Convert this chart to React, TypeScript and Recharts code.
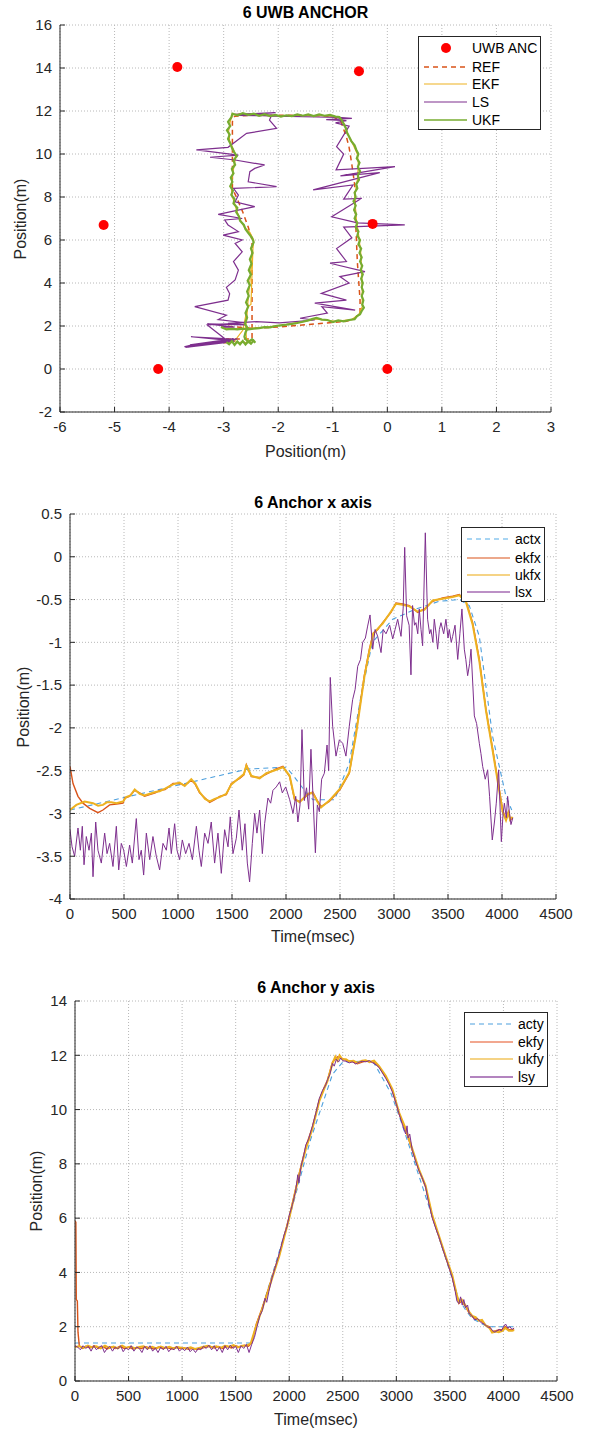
import React from 'react';
import { ComposedChart, Line, Scatter, XAxis, YAxis, CartesianGrid } from 'recharts';

const FONT = 'Arial, "Liberation Sans", Helvetica, sans-serif';
const INK = '#262626';

// ---------- panel 1: 2D track (x, y in metres) ----------
const anchorPts: [number, number][] = [
  [-3.85, 14.05], [-0.52, 13.85], [-5.2, 6.7], [-0.27, 6.75], [-4.2, 0], [0, 0],
];

const refTrack: [number, number][] = [
  [-2.96, 1.4], [-2.48, 1.4], [-2.48, 6.0], [-2.55, 6.6], [-2.65, 7.3], [-2.75, 7.9], [-2.84, 8.4],
  [-2.84, 11.5], [-2.8, 11.75], [-2.5, 11.8], [-1.5, 11.8], [-1.0, 11.75], [-0.85, 11.5], [-0.75, 10.8],
  [-0.7, 10.3], [-0.65, 9.5], [-0.6, 8.6], [-0.58, 6.8], [-0.55, 5.0], [-0.5, 3.2], [-0.5, 2.6],
  [-0.6, 2.35], [-0.75, 2.22], [-1.3, 2.1], [-2.0, 1.95], [-2.5, 1.9], [-2.96, 2.0],
];

const ekfTrack: [number, number][] = [
  [-2.45, 5.9], [-2.46, 5.85], [-2.5, 3.0], [-2.56, 2.9], [-2.65, 1.8], [-2.8, 1.3], [-2.88, 1.2],
  [-2.95, 1.28], [-2.99, 1.2], [-2.9, 1.25], [-2.82, 1.3], [-2.73, 1.2], [-2.65, 1.28], [-2.6, 1.22],
  [-2.55, 1.3], [-2.5, 1.25], [-2.58, 1.4], [-2.6, 1.9], [-2.57, 2.6], [-2.55, 3.3], [-2.52, 4.0],
  [-2.5, 4.7], [-2.47, 5.4], [-2.45, 6.0], [-2.52, 6.35], [-2.62, 6.6], [-2.7, 6.95], [-2.76, 7.35],
  [-2.8, 7.7], [-2.85, 8.1], [-2.86, 8.6], [-2.84, 9.0], [-2.81, 9.45], [-2.78, 9.85], [-2.82, 10.2],
  [-2.89, 10.6], [-2.91, 11.05], [-2.88, 11.5], [-2.84, 11.82], [-2.7, 11.86], [-2.3, 11.8],
  [-1.9, 11.77], [-1.5, 11.79], [-1.1, 11.78], [-0.88, 11.68], [-0.79, 11.4], [-0.72, 10.9],
  [-0.62, 10.4], [-0.55, 10.0], [-0.53, 9.5], [-0.55, 8.8], [-0.6, 8.0], [-0.57, 7.0], [-0.53, 6.3],
  [-0.49, 5.5], [-0.47, 4.5], [-0.46, 3.6], [-0.46, 2.9], [-0.52, 2.55], [-0.65, 2.3], [-0.95, 2.22],
  [-1.3, 2.33], [-1.55, 2.2], [-1.85, 2.07], [-2.2, 1.95], [-2.6, 1.87], [-3.0, 1.9],
];

const lsTrack: [number, number][] = [
  [-2.8, 1.3], [-3.6, 1.05], [-2.85, 1.35], [-3.7, 1.0], [-2.9, 1.25], [-3.5, 1.1], [-2.75, 1.4],
  [-3.65, 1.02], [-2.95, 1.3], [-3.4, 1.15], [-2.8, 1.35], [-3.7, 1.05], [-3.0, 1.28], [-3.55, 1.08],
  [-2.85, 1.3], [-3.62, 1.12], [-2.9, 1.38], [-3.68, 1.06], [-2.88, 1.32], [-3.45, 1.12], [-2.82, 1.42],
  [-3.58, 1.1], [-2.92, 1.36], [-3.72, 1.04], [-2.86, 1.28], [-3.52, 1.14], [-2.78, 1.38], [-3.66, 1.08],
  [-2.9, 1.33], [-3.6, 1.5], [-2.9, 1.4], [-3.3, 1.2], [-2.95, 1.35], [-3.3, 2.05], [-2.6, 2.15],
  [-3.1, 2.3], [-2.95, 2.5], [-3.53, 2.9], [-2.92, 3.2], [-2.89, 3.5], [-2.95, 3.8], [-2.79, 4.14],
  [-2.73, 4.6], [-2.82, 5.0], [-2.66, 5.45], [-2.79, 5.84], [-2.66, 6.0], [-3.01, 6.23], [-2.73, 6.39],
  [-2.92, 6.7], [-2.98, 6.93], [-2.66, 7.0], [-3.1, 7.19], [-2.43, 7.55], [-2.79, 7.78], [-2.73, 8.09],
  [-2.82, 8.4], [-2.03, 8.48], [-2.55, 8.71], [-2.52, 9.18], [-2.43, 9.33], [-2.25, 9.49], [-2.79, 9.72],
  [-3.25, 9.85], [-2.73, 9.95], [-3.5, 10.19], [-2.92, 10.31], [-2.58, 10.96], [-2.03, 11.19],
  [-2.16, 11.58], [-2.12, 11.81], [-2.8, 11.85], [-2.05, 11.92], [-2.75, 11.8], [-2.3, 11.78],
  [-1.8, 11.75], [-1.3, 11.72], [-0.9, 11.7], [-0.65, 11.66], [-1.12, 11.6], [-0.75, 11.55],
  [-0.95, 11.45], [-0.7, 11.3], [-0.93, 10.34], [-0.8, 10.0], [-0.94, 9.26], [0.14, 9.41],
  [-0.86, 8.98], [-0.14, 9.13], [-1.36, 8.33], [-0.63, 8.56], [-0.8, 7.9], [-0.47, 7.94], [-1.02, 7.08],
  [-0.55, 6.8], [0.32, 6.7], [-0.8, 6.6], [-0.65, 6.1], [-0.93, 5.6], [-0.75, 5.0], [-1.05, 4.92],
  [-0.41, 4.53], [-0.87, 4.3], [-0.7, 4.0], [-1.21, 3.52], [-0.75, 3.2], [-1.33, 3.06], [-0.59, 2.74],
  [-1.2, 2.9], [-1.1, 2.6], [-1.6, 2.36], [-1.33, 2.28], [-1.98, 2.15], [-2.4, 2.2], [-2.92, 2.12],
  [-2.6, 2.05], [-3.3, 2.1], [-2.8, 1.95], [-3.05, 1.95],
];

const ukfTrack: [number, number][] = [
  [-2.95, 1.25], [-2.9, 1.15], [-2.85, 1.3], [-2.8, 1.12], [-2.75, 1.28], [-2.7, 1.15], [-2.65, 1.3],
  [-2.6, 1.14], [-2.55, 1.28], [-2.5, 1.18], [-2.45, 1.32], [-2.42, 1.22], [-2.48, 1.38], [-2.55, 1.25],
  [-2.6, 1.4], [-2.62, 1.5], [-2.6, 1.7], [-2.56, 1.9], [-2.61, 2.1], [-2.57, 2.4], [-2.6, 2.6],
  [-2.55, 2.9], [-2.59, 3.1], [-2.54, 3.4], [-2.57, 3.6], [-2.52, 3.9], [-2.56, 4.1], [-2.5, 4.4],
  [-2.54, 4.6], [-2.49, 4.9], [-2.52, 5.1], [-2.47, 5.4], [-2.5, 5.6], [-2.45, 5.9], [-2.48, 6.1],
  [-2.54, 6.3], [-2.6, 6.5], [-2.63, 6.7], [-2.7, 6.9], [-2.72, 7.1], [-2.77, 7.3], [-2.75, 7.5],
  [-2.82, 7.7], [-2.8, 7.9], [-2.86, 8.1], [-2.83, 8.3], [-2.88, 8.5], [-2.84, 8.7], [-2.87, 8.9],
  [-2.82, 9.1], [-2.85, 9.3], [-2.79, 9.5], [-2.82, 9.7], [-2.76, 9.9], [-2.81, 10.1], [-2.85, 10.3],
  [-2.88, 10.5], [-2.92, 10.7], [-2.89, 10.9], [-2.94, 11.1], [-2.88, 11.3], [-2.92, 11.5], [-2.86, 11.7],
  [-2.84, 11.88], [-2.75, 11.8], [-2.65, 11.9], [-2.55, 11.82], [-2.45, 11.88], [-2.35, 11.78],
  [-2.25, 11.85], [-2.15, 11.76], [-2.05, 11.82], [-1.95, 11.74], [-1.85, 11.8], [-1.75, 11.76],
  [-1.65, 11.84], [-1.55, 11.78], [-1.45, 11.84], [-1.35, 11.76], [-1.25, 11.84], [-1.15, 11.78],
  [-1.05, 11.82], [-0.95, 11.74], [-0.88, 11.72], [-0.83, 11.55], [-0.8, 11.4], [-0.76, 11.2],
  [-0.74, 11.0], [-0.7, 10.8], [-0.66, 10.6], [-0.6, 10.4], [-0.57, 10.2], [-0.53, 10.0], [-0.56, 9.8],
  [-0.51, 9.6], [-0.54, 9.4], [-0.5, 9.2], [-0.54, 9.0], [-0.52, 8.8], [-0.57, 8.6], [-0.55, 8.4],
  [-0.6, 8.2], [-0.58, 8.0], [-0.62, 7.8], [-0.58, 7.6], [-0.61, 7.4], [-0.57, 7.2], [-0.6, 7.0],
  [-0.55, 6.8], [-0.58, 6.6], [-0.53, 6.4], [-0.55, 6.2], [-0.5, 6.0], [-0.53, 5.8], [-0.48, 5.6],
  [-0.51, 5.4], [-0.47, 5.2], [-0.5, 5.0], [-0.46, 4.8], [-0.49, 4.6], [-0.45, 4.4], [-0.48, 4.2],
  [-0.45, 4.0], [-0.47, 3.8], [-0.44, 3.6], [-0.47, 3.4], [-0.44, 3.2], [-0.46, 3.0], [-0.43, 2.85],
  [-0.47, 2.7], [-0.5, 2.55], [-0.56, 2.45], [-0.6, 2.32], [-0.7, 2.28], [-0.8, 2.22], [-0.9, 2.26],
  [-1.0, 2.18], [-1.1, 2.28], [-1.2, 2.3], [-1.3, 2.38], [-1.38, 2.32], [-1.45, 2.26], [-1.55, 2.2],
  [-1.65, 2.14], [-1.75, 2.1], [-1.85, 2.06], [-1.95, 2.03], [-2.05, 2.0], [-2.15, 1.94], [-2.25, 1.95],
  [-2.35, 1.9], [-2.45, 1.88], [-2.55, 1.84], [-2.65, 1.88], [-2.75, 1.84], [-2.85, 1.87], [-2.95, 1.84],
  [-3.05, 1.95],
];

const trackXTicks = [-6, -5, -4, -3, -2, -1, 0, 1, 2, 3];
const trackYTicks = [-2, 0, 2, 4, 6, 8, 10, 12, 14, 16];

// ---------- panel 2: x position over time ----------
const actxT = [0, 1650, 2000, 2064, 2188, 2250, 2450, 2586, 2694, 2800, 2988, 3203, 3420, 3605, 3697, 3790, 3913, 4037, 4090];
const actxV = [-2.96, -2.48, -2.46, -2.55, -2.76, -2.84, -2.84, -2.41, -1.63, -1.0, -0.73, -0.61, -0.52, -0.5, -0.57, -0.93, -2.1, -2.8, -2.96];

const ekfxT = [0, 28, 74, 120, 182, 259, 305, 367, 430, 491, 506, 550, 599, 645, 690, 738, 790, 830, 880, 954, 1015, 1062, 1123, 1160, 1200, 1250, 1293, 1340, 1386, 1447, 1494, 1571, 1610, 1633, 1679, 1756, 1818, 1910, 1972, 2034, 2080, 2126, 2203, 2247, 2290, 2324, 2401, 2500, 2586, 2648, 2725, 2772, 2809, 2850, 2895, 2972, 3018, 3080, 3142, 3219, 3281, 3358, 3450, 3543, 3605, 3667, 3728, 3790, 3852, 3914, 3975, 4006, 4037, 4060, 4075, 4098];
const ekfxV = [-2.45, -2.65, -2.8, -2.88, -2.94, -2.99, -2.96, -2.9, -2.89, -2.88, -2.82, -2.8, -2.73, -2.76, -2.8, -2.78, -2.76, -2.73, -2.72, -2.65, -2.65, -2.67, -2.61, -2.66, -2.76, -2.82, -2.87, -2.84, -2.8, -2.78, -2.65, -2.59, -2.55, -2.43, -2.57, -2.58, -2.54, -2.48, -2.45, -2.57, -2.84, -2.86, -2.78, -2.75, -2.85, -2.92, -2.86, -2.72, -2.53, -2.06, -1.39, -1.08, -0.89, -0.85, -0.77, -0.65, -0.54, -0.55, -0.57, -0.65, -0.61, -0.52, -0.48, -0.46, -0.44, -0.52, -0.77, -1.2, -1.79, -2.25, -2.72, -2.96, -3.07, -2.98, -3.08, -3.05];

const ukfxT = [0, 59, 136, 213, 260, 305, 340, 383, 430, 491, 520, 560, 599, 645, 690, 738, 790, 830, 880, 954, 1015, 1062, 1123, 1160, 1200, 1250, 1293, 1340, 1386, 1447, 1494, 1571, 1610, 1633, 1679, 1756, 1818, 1910, 1972, 2034, 2080, 2126, 2203, 2247, 2290, 2324, 2401, 2500, 2586, 2648, 2725, 2772, 2809, 2850, 2895, 2972, 3018, 3080, 3142, 3219, 3281, 3358, 3450, 3543, 3605, 3667, 3728, 3790, 3852, 3914, 3975, 4006, 4037, 4060, 4075, 4098];
const ukfxV = [-2.96, -2.9, -2.86, -2.88, -2.91, -2.9, -2.87, -2.87, -2.88, -2.86, -2.81, -2.79, -2.72, -2.77, -2.79, -2.77, -2.75, -2.74, -2.71, -2.66, -2.64, -2.68, -2.6, -2.65, -2.75, -2.83, -2.86, -2.83, -2.81, -2.77, -2.66, -2.58, -2.54, -2.44, -2.56, -2.59, -2.53, -2.49, -2.46, -2.56, -2.83, -2.87, -2.77, -2.76, -2.86, -2.93, -2.85, -2.71, -2.52, -2.08, -1.41, -1.1, -0.9, -0.84, -0.78, -0.64, -0.55, -0.56, -0.58, -0.64, -0.62, -0.51, -0.49, -0.47, -0.45, -0.53, -0.79, -1.22, -1.8, -2.27, -2.74, -2.98, -3.08, -2.99, -3.07, -3.04];

const lsxT = [0, 19, 43, 74, 96, 114, 130, 151, 176, 198, 213, 238, 259, 290, 321, 343, 367, 398, 429, 451, 475, 497, 522, 552, 577, 614, 639, 660, 682, 707, 738, 768, 799, 830, 861, 892, 917, 938, 969, 991, 1015, 1040, 1071, 1102, 1133, 1170, 1194, 1216, 1247, 1278, 1308, 1339, 1370, 1401, 1432, 1463, 1484, 1509, 1540, 1565, 1595, 1620, 1642, 1663, 1688, 1710, 1731, 1756, 1781, 1802, 1833, 1858, 1879, 1910, 1941, 1966, 1997, 2034, 2065, 2090, 2110, 2130, 2148, 2170, 2190, 2210, 2231, 2250, 2272, 2290, 2309, 2330, 2355, 2380, 2395, 2410, 2432, 2463, 2494, 2525, 2555, 2586, 2617, 2640, 2664, 2690, 2710, 2735, 2756, 2778, 2803, 2825, 2849, 2880, 2900, 2926, 2960, 2988, 3010, 3034, 3065, 3085, 3099, 3117, 3140, 3157, 3172, 3190, 3203, 3220, 3234, 3250, 3265, 3290, 3311, 3330, 3342, 3360, 3373, 3390, 3404, 3420, 3435, 3460, 3481, 3500, 3512, 3530, 3543, 3565, 3590, 3610, 3629, 3651, 3665, 3682, 3700, 3713, 3730, 3744, 3765, 3790, 3805, 3821, 3845, 3867, 3885, 3910, 3930, 3947, 3969, 3994, 4010, 4022, 4040, 4052, 4070, 4083, 4100];
const lsxV = [-3.19, -3.39, -3.5, -3.17, -3.43, -3.15, -3.6, -3.27, -3.43, -3.23, -3.74, -3.1, -3.43, -3.58, -3.23, -3.47, -3.35, -3.62, -3.15, -3.66, -3.35, -3.43, -3.62, -3.37, -3.58, -3.06, -3.54, -3.43, -3.72, -3.23, -3.54, -3.27, -3.5, -3.66, -3.35, -3.43, -3.17, -3.47, -3.12, -3.43, -3.54, -3.31, -3.47, -3.35, -3.54, -3.15, -3.43, -3.62, -3.23, -3.35, -3.1, -3.58, -3.23, -3.7, -3.19, -3.39, -3.04, -3.47, -3.29, -2.96, -3.43, -3.12, -3.58, -3.8, -3.35, -3.0, -3.23, -2.96, -3.47, -3.12, -2.82, -2.88, -2.73, -2.69, -2.63, -2.76, -2.69, -2.84, -3.0, -2.8, -3.1, -2.9, -2.02, -2.85, -2.7, -2.95, -2.25, -2.8, -3.46, -2.9, -2.98, -2.6, -2.53, -2.2, -2.5, -1.41, -1.98, -2.33, -2.14, -2.18, -2.33, -1.98, -1.67, -1.55, -1.28, -1.2, -1.0, -0.95, -0.81, -0.68, -1.08, -0.85, -0.93, -1.12, -0.85, -0.9, -0.8, -0.96, -0.85, -0.73, -0.93, -0.6, 0.11, -0.69, -0.8, -1.38, -0.57, -0.8, -0.77, -0.9, -0.61, -0.85, -1.04, 0.28, -0.73, -0.9, -0.85, -1.0, -0.73, -0.9, -1.08, -0.85, -0.77, -0.9, -0.73, -0.95, -0.85, -1.0, -0.93, -0.8, -1.2, -0.9, -0.61, -1.08, -1.2, -1.39, -1.25, -1.08, -1.5, -1.86, -1.95, -2.18, -2.3, -2.45, -2.6, -2.49, -2.8, -3.31, -3.1, -2.88, -2.49, -3.33, -3.0, -2.88, -3.05, -2.8, -3.0, -3.13, -3.05];

const timeTicks = [0, 500, 1000, 1500, 2000, 2500, 3000, 3500, 4000, 4500];
const xPosTicks = [-4, -3.5, -3, -2.5, -2, -1.5, -1, -0.5, 0, 0.5];

// ---------- panel 3: y position over time ----------
const actyT = [0, 1650, 2000, 2200, 2404, 2500, 2780, 2950, 3050, 3336, 3584, 3650, 3708, 3850, 4100];
const actyV = [1.4, 1.4, 6.0, 8.9, 11.3, 11.75, 11.8, 10.6, 9.5, 6.05, 3.0, 2.6, 2.3, 2.0, 2.0];

const ekfyT = [0, 8, 12, 22, 28, 40, 70, 100, 140, 180, 220, 260, 300, 340, 380, 420, 460, 500, 540, 580, 620, 660, 700, 740, 780, 820, 860, 900, 940, 980, 1020, 1060, 1100, 1140, 1180, 1220, 1260, 1300, 1340, 1380, 1420, 1460, 1500, 1540, 1580, 1620, 1650, 1693, 1739, 1790, 1850, 1907, 1950, 2000, 2050, 2093, 2155, 2217, 2280, 2330, 2357, 2404, 2450, 2497, 2530, 2559, 2600, 2637, 2680, 2714, 2750, 2792, 2839, 2901, 2963, 3025, 3087, 3149, 3211, 3273, 3336, 3398, 3460, 3522, 3560, 3584, 3610, 3646, 3680, 3708, 3740, 3770, 3800, 3832, 3870, 3894, 3930, 3956, 3990, 4018, 4050, 4081, 4100];
const ekfyV = [5.9, 5.85, 3.0, 2.95, 1.8, 1.3, 1.2, 1.28, 1.22, 1.3, 1.2, 1.27, 1.18, 1.25, 1.2, 1.28, 1.2, 1.25, 1.18, 1.24, 1.2, 1.26, 1.22, 1.18, 1.25, 1.2, 1.23, 1.18, 1.24, 1.2, 1.22, 1.17, 1.2, 1.16, 1.2, 1.25, 1.28, 1.22, 1.27, 1.2, 1.28, 1.22, 1.3, 1.25, 1.32, 1.28, 1.4, 2.1, 2.6, 3.2, 3.95, 4.64, 5.3, 6.05, 6.9, 7.64, 8.63, 9.36, 10.34, 10.85, 11.08, 11.75, 11.94, 11.88, 11.82, 11.79, 11.75, 11.69, 11.75, 11.79, 11.77, 11.75, 11.57, 11.2, 10.71, 9.85, 9.24, 8.5, 7.77, 7.15, 6.05, 5.31, 4.58, 3.84, 3.2, 2.86, 2.95, 2.74, 2.5, 2.37, 2.3, 2.25, 2.2, 2.06, 2.0, 1.82, 1.85, 1.88, 1.9, 2.0, 1.9, 1.88, 1.9];

const ukfyT = [0, 40, 80, 120, 160, 200, 240, 280, 320, 360, 400, 440, 480, 520, 560, 600, 640, 680, 720, 760, 800, 840, 880, 920, 960, 1000, 1040, 1080, 1120, 1160, 1200, 1240, 1280, 1320, 1360, 1400, 1440, 1480, 1520, 1560, 1600, 1640, 1693, 1739, 1790, 1850, 1907, 1950, 2000, 2050, 2093, 2155, 2217, 2280, 2330, 2357, 2404, 2430, 2450, 2470, 2497, 2530, 2559, 2600, 2637, 2680, 2714, 2750, 2792, 2839, 2901, 2963, 3025, 3087, 3149, 3211, 3273, 3336, 3398, 3460, 3522, 3560, 3584, 3610, 3646, 3680, 3708, 3740, 3770, 3800, 3832, 3870, 3894, 3930, 3956, 3990, 4018, 4050, 4081, 4100];
const ukfyV = [1.25, 1.28, 1.22, 1.3, 1.24, 1.28, 1.2, 1.3, 1.22, 1.27, 1.2, 1.3, 1.22, 1.27, 1.2, 1.25, 1.28, 1.2, 1.26, 1.2, 1.27, 1.22, 1.26, 1.2, 1.25, 1.22, 1.2, 1.24, 1.18, 1.22, 1.26, 1.3, 1.24, 1.28, 1.22, 1.3, 1.26, 1.32, 1.24, 1.3, 1.3, 1.38, 2.05, 2.55, 3.15, 3.9, 4.6, 5.25, 6.0, 6.85, 7.6, 8.55, 9.3, 10.3, 10.8, 11.05, 11.7, 11.95, 11.8, 12.0, 11.85, 11.85, 11.78, 11.8, 11.72, 11.8, 11.82, 11.75, 11.8, 11.6, 11.25, 10.75, 9.9, 9.3, 8.55, 7.8, 7.2, 6.1, 5.35, 4.6, 3.9, 3.25, 2.9, 3.0, 2.78, 2.55, 2.4, 2.35, 2.22, 2.25, 2.05, 1.95, 1.78, 1.82, 1.8, 1.85, 1.95, 1.85, 1.85, 1.88];

const lsyT = [0, 25, 50, 75, 100, 125, 150, 175, 200, 225, 250, 275, 300, 325, 350, 375, 400, 425, 450, 475, 500, 525, 550, 575, 600, 625, 650, 675, 700, 725, 750, 775, 800, 825, 850, 875, 900, 925, 950, 975, 1000, 1025, 1050, 1075, 1100, 1125, 1150, 1175, 1200, 1225, 1250, 1275, 1300, 1325, 1350, 1375, 1400, 1425, 1450, 1475, 1500, 1525, 1550, 1575, 1600, 1625, 1650, 1675, 1700, 1725, 1750, 1775, 1790, 1810, 1840, 1870, 1907, 1950, 1980, 2000, 2030, 2060, 2080, 2090, 2110, 2140, 2155, 2180, 2217, 2250, 2280, 2310, 2340, 2357, 2380, 2404, 2420, 2440, 2460, 2480, 2500, 2530, 2560, 2590, 2620, 2650, 2680, 2714, 2750, 2780, 2810, 2839, 2870, 2901, 2930, 2963, 3000, 3025, 3060, 3087, 3100, 3110, 3125, 3149, 3180, 3211, 3240, 3273, 3300, 3336, 3370, 3398, 3430, 3460, 3490, 3522, 3550, 3565, 3584, 3600, 3615, 3630, 3646, 3665, 3680, 3708, 3730, 3760, 3790, 3820, 3850, 3880, 3900, 3920, 3940, 3960, 3980, 4000, 4020, 4040, 4060, 4080, 4100];
const lsyV = [1.3, 1.25, 1.15, 1.3, 1.2, 1.28, 1.1, 1.3, 1.15, 1.25, 1.3, 1.05, 1.2, 1.28, 1.1, 1.25, 1.18, 1.3, 1.08, 1.22, 1.15, 1.3, 1.1, 1.25, 1.2, 1.05, 1.28, 1.15, 1.3, 1.1, 1.22, 1.05, 1.25, 1.15, 1.28, 1.08, 1.2, 1.15, 1.28, 1.1, 1.2, 1.12, 1.25, 1.08, 1.18, 1.05, 1.2, 1.15, 1.28, 1.2, 1.32, 1.15, 1.3, 1.1, 1.25, 1.05, 1.3, 1.15, 1.32, 1.2, 1.28, 1.05, 1.3, 1.2, 1.35, 1.05, 1.35, 1.6, 2.0, 2.4, 2.6, 3.05, 2.9, 3.3, 3.8, 4.2, 4.7, 5.35, 5.7, 6.1, 6.5, 7.0, 7.6, 7.3, 7.9, 8.4, 8.7, 8.9, 9.4, 9.9, 10.4, 10.7, 10.9, 11.1, 11.3, 11.7, 11.6, 11.85, 11.75, 11.9, 11.8, 11.78, 11.72, 11.76, 11.68, 11.74, 11.78, 11.76, 11.8, 11.72, 11.65, 11.55, 11.35, 11.15, 10.95, 10.65, 10.2, 9.85, 9.4, 9.1, 9.4, 8.95, 9.1, 8.5, 8.1, 7.75, 7.5, 7.15, 6.6, 6.0, 5.6, 5.3, 4.9, 4.55, 4.2, 3.8, 3.3, 2.95, 2.85, 3.1, 2.8, 3.0, 2.7, 2.8, 2.5, 2.4, 2.25, 2.3, 2.15, 2.1, 2.0, 1.95, 1.85, 1.8, 1.85, 1.9, 1.85, 2.0, 2.1, 1.95, 2.0, 1.9, 1.95];

const yPosTicks = [0, 2, 4, 6, 8, 10, 12, 14];

// ---------- helpers ----------
type Pt = { x: number; y: number };
const pairs = (pts: [number, number][]): Pt[] => pts.map(([x, y]) => ({ x, y }));
const zip = (t: number[], v: number[]): Pt[] => t.map((x, i) => ({ x, y: v[i] }));

type Series = { name: string; data: Pt[]; color: string; width: number; dash?: string };
type LegendItem = { label: string; color: string; width: number; dash?: string; marker?: boolean };

const tickStyle = { fill: INK, fontSize: 15, fontFamily: FONT };

const LegendBox = ({ left, top, width, height, rows, items }: {
  left: number; top: number; width: number; height: number; rows: number[]; items: LegendItem[];
}) => (
  <div style={{ position: 'absolute', left, top, width, height, background: '#fff', border: `1px solid ${INK}`, boxSizing: 'border-box' }}>
    {items.map((it, i) => (
      <div key={it.label} style={{ position: 'absolute', left: 0, top: rows[i] - 9, height: 18, width: '100%' }}>
        <svg width={50} height={18} style={{ position: 'absolute', left: 0, top: 0 }}>
          {it.marker
            ? <circle cx={27} cy={9} r={5} fill={it.color} />
            : <line x1={5} x2={48} y1={9} y2={9} stroke={it.color} strokeWidth={it.width} strokeDasharray={it.dash} />}
        </svg>
        <span style={{ position: 'absolute', left: 53, top: 0, lineHeight: '18px', fontSize: 14, fontFamily: FONT, color: '#000', whiteSpace: 'nowrap' }}>
          {it.label}
        </span>
      </div>
    ))}
  </div>
);

interface PanelProps {
  top: number;
  height: number;
  plot: { left: number; right: number; top: number; bottom: number };
  title: string; titleY: number;
  xLabel: string; xLabelY: number;
  yLabel: string; yLabelX: number;
  xDomain: [number, number]; xTicks: number[];
  yDomain: [number, number]; yTicks: number[];
  lines: Series[];
  dots?: Pt[];
  legend: { left: number; top: number; width: number; height: number; rows: number[]; items: LegendItem[] };
}

const Panel: React.FC<PanelProps> = (p) => {
  const W = 590, YW = 50, XH = 30;
  const margin = { top: p.plot.top, right: W - p.plot.right, bottom: p.height - p.plot.bottom - XH, left: p.plot.left - YW };
  const cx = (p.plot.left + p.plot.right) / 2;
  const cy = (p.plot.top + p.plot.bottom) / 2;
  const labelStyle: React.CSSProperties = { position: 'absolute', height: 20, lineHeight: '20px', textAlign: 'center', fontFamily: FONT, color: INK, whiteSpace: 'nowrap' };
  return (
    <div style={{ position: 'absolute', left: 0, top: p.top, width: W, height: p.height }}>
      <ComposedChart width={W} height={p.height} margin={margin}>
        <CartesianGrid stroke="#b8b8b8" strokeDasharray="1 2" />
        <XAxis type="number" dataKey="x" domain={p.xDomain} ticks={p.xTicks} interval={0} allowDataOverflow
          height={XH} stroke={INK} tick={tickStyle} tickSize={-5} tickMargin={14} />
        <XAxis xAxisId="top" orientation="top" type="number" dataKey="x" domain={p.xDomain} ticks={p.xTicks} interval={0}
          allowDataOverflow height={0} stroke={INK} tickSize={-5} tickFormatter={() => ''} />
        <YAxis type="number" dataKey="y" domain={p.yDomain} ticks={p.yTicks} interval={0} allowDataOverflow
          width={YW} stroke={INK} tick={tickStyle} tickSize={-5} tickMargin={13} />
        <YAxis yAxisId="right" orientation="right" type="number" dataKey="y" domain={p.yDomain} ticks={p.yTicks} interval={0}
          allowDataOverflow width={0} stroke={INK} tickSize={-5} tickFormatter={() => ''} />
        {p.lines.map((s) => (
          <Line key={s.name} name={s.name} data={s.data} dataKey="y" type="linear" stroke={s.color}
            strokeWidth={s.width} strokeDasharray={s.dash} dot={false} activeDot={false} isAnimationActive={false} />
        ))}
        {p.dots && (
          <Scatter name="UWB ANC" data={p.dots} dataKey="y" fill="#ff0000" isAnimationActive={false}
            shape={(d: any) => <circle cx={d.cx} cy={d.cy} r={5} fill="#ff0000" />} />
        )}
      </ComposedChart>
      <div style={{ ...labelStyle, left: cx - 150, width: 300, top: p.titleY - 10, fontSize: 16, fontWeight: 700, color: '#000' }}>{p.title}</div>
      <div style={{ ...labelStyle, left: cx - 150, width: 300, top: p.xLabelY - 10, fontSize: 16 }}>{p.xLabel}</div>
      <div style={{ ...labelStyle, left: p.yLabelX - 100, width: 200, top: cy - 10, fontSize: 16, transform: 'rotate(-90deg)' }}>{p.yLabel}</div>
      <LegendBox {...p.legend} />
    </div>
  );
};

const C_REF = '#D95319';
const C_EKF = '#EDB120';
const C_LS = '#7E2F8E';
const C_UKF = '#77AC30';
const C_ACT = '#4C9FDD';

export default function App() {
  return (
    <div style={{ position: 'absolute', left: 0, top: 0, width: 590, height: 1430, background: '#fff' }}>
      <Panel
        top={0} height={470}
        plot={{ left: 60, right: 551, top: 25, bottom: 412 }}
        title="6 UWB ANCHOR" titleY={13}
        xLabel="Position(m)" xLabelY={452}
        yLabel="Position(m)" yLabelX={21}
        xDomain={[-6, 3]} xTicks={trackXTicks}
        yDomain={[-2, 16]} yTicks={trackYTicks}
        lines={[
          { name: 'REF', data: pairs(refTrack), color: C_REF, width: 1.5, dash: '5 4' },
          { name: 'EKF', data: pairs(ekfTrack), color: C_EKF, width: 1.2 },
          { name: 'LS', data: pairs(lsTrack), color: C_LS, width: 1.2 },
          { name: 'UKF', data: pairs(ukfTrack), color: C_UKF, width: 2.2 },
        ]}
        dots={pairs(anchorPts)}
        legend={{
          left: 418, top: 36, width: 123, height: 94, rows: [11, 30, 47, 65, 83],
          items: [
            { label: 'UWB ANC', color: '#ff0000', width: 1, marker: true },
            { label: 'REF', color: C_REF, width: 1.5, dash: '5 4' },
            { label: 'EKF', color: C_EKF, width: 1.2 },
            { label: 'LS', color: C_LS, width: 1.2 },
            { label: 'UKF', color: C_UKF, width: 1.5 },
          ],
        }}
      />
      <Panel
        top={480} height={470}
        plot={{ left: 70, right: 556, top: 34, bottom: 419 }}
        title="6 Anchor x axis" titleY={23}
        xLabel="Time(msec)" xLabelY={457}
        yLabel="Position(m)" yLabelX={24}
        xDomain={[0, 4500]} xTicks={timeTicks}
        yDomain={[-4, 0.5]} yTicks={xPosTicks}
        lines={[
          { name: 'actx', data: zip(actxT, actxV), color: C_ACT, width: 1.1, dash: '5 4' },
          { name: 'ekfx', data: zip(ekfxT, ekfxV), color: C_REF, width: 1.4 },
          { name: 'ukfx', data: zip(ukfxT, ukfxV), color: C_EKF, width: 2 },
          { name: 'lsx', data: zip(lsxT, lsxV), color: C_LS, width: 1 },
        ]}
        legend={{
          left: 461, top: 47, width: 84, height: 75, rows: [11, 30, 47, 64],
          items: [
            { label: 'actx', color: '#8cc8ef', width: 1.5, dash: '5 4' },
            { label: 'ekfx', color: C_REF, width: 1.2 },
            { label: 'ukfx', color: '#F2C55C', width: 1.5 },
            { label: 'lsx', color: '#A66BB3', width: 1.5 },
          ],
        }}
      />
      <Panel
        top={960} height={470}
        plot={{ left: 75, right: 557, top: 41, bottom: 421 }}
        title="6 Anchor y axis" titleY={28}
        xLabel="Time(msec)" xLabelY={460}
        yLabel="Position(m)" yLabelX={37}
        xDomain={[0, 4500]} xTicks={timeTicks}
        yDomain={[0, 14]} yTicks={yPosTicks}
        lines={[
          { name: 'acty', data: zip(actyT, actyV), color: C_ACT, width: 1.1, dash: '5 4' },
          { name: 'ekfy', data: zip(ekfyT, ekfyV), color: C_REF, width: 1.4 },
          { name: 'ukfy', data: zip(ukfyT, ukfyV), color: C_EKF, width: 2 },
          { name: 'lsy', data: zip(lsyT, lsyV), color: C_LS, width: 1 },
        ]}
        legend={{
          left: 464, top: 52, width: 84, height: 75, rows: [11, 29, 46, 64],
          items: [
            { label: 'acty', color: C_ACT, width: 1.2, dash: '5 4' },
            { label: 'ekfy', color: '#EE8A6A', width: 1.5 },
            { label: 'ukfy', color: '#F2C55C', width: 1.5 },
            { label: 'lsy', color: '#9A5BAA', width: 1.5 },
          ],
        }}
      />
    </div>
  );
}
